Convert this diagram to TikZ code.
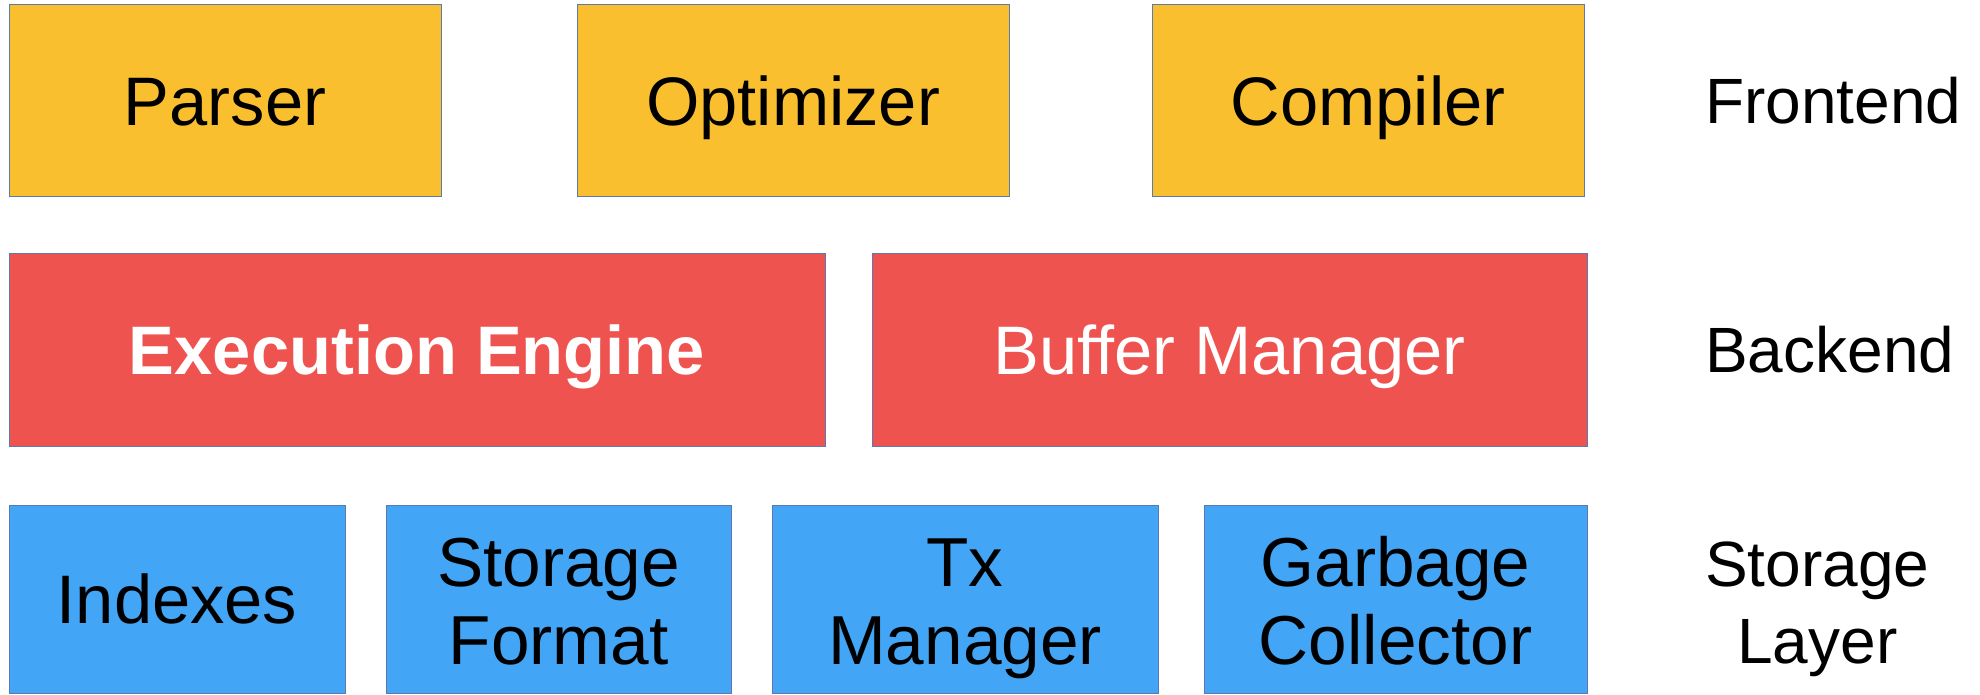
\documentclass[tikz,border=0pt]{standalone}
\usepackage{fontspec}
\setmainfont{Liberation Sans}
\definecolor{fe}{HTML}{F9BF2F}
\definecolor{be}{HTML}{EF5350}
\definecolor{st}{HTML}{42A5F5}
\definecolor{edge}{HTML}{5A7AB0}
\begin{document}
\begin{tikzpicture}[x=0.75pt,y=-0.75pt,
  box/.style={draw=edge,line width=0.75pt,inner sep=0pt,outer sep=0pt,align=center},
  big/.style={font=\fontsize{51.5}{61}\selectfont,text height=36.9pt,text depth=0pt},
  two/.style={font=\fontsize{52}{58}\selectfont,text height=97.5pt,text depth=0pt},
  side/.style={inner sep=0pt,anchor=west,align=center,font=\fontsize{48}{57.75}\selectfont},
  rowA/.style={box,big,fill=fe,minimum width=324pt,minimum height=144pt},
  rowB/.style={box,big,fill=be,text=white,minimum height=144pt},
  rowC/.style={box,fill=st,minimum height=141pt}]
\useasboundingbox (0,0) rectangle (1980,695);
% Frontend
\node[rowA] (parser) at (225,101) {Parser};
\node[rowA] (opt) at (793,101) {Optimizer};
\node[rowA] (comp) at (1368,101) {Compiler};
\node[side,text height=34.4pt,text depth=0pt] (fe) at (1705,101) {Frontend};
% Backend
\node[rowB,minimum width=612pt] (exec) at (417,350) {\bfseries Execution Engine};
\node[rowB,minimum width=536.25pt] (buf) at (1229.5,350) {Buffer Manager};
\node[side,text height=34.4pt,text depth=0pt] (be) at (1705,350) {Backend};
% Storage layer
\node[rowC,big,minimum width=252pt] (idx) at (177,599) {Indexes};
\node[rowC,two,minimum width=258.75pt] (sf) at (558.5,599) {Storage\\Format};
\node[rowC,two,minimum width=289.5pt] (tx) at (965,599) {Tx\\Manager};
\node[rowC,two,minimum width=287.25pt] (gc) at (1395.5,599) {Garbage\\Collector};
\node[side,text height=97.4pt,text depth=0pt] (sl) at (1705,599) {Storage\\Layer};
\end{tikzpicture}
\end{document}
